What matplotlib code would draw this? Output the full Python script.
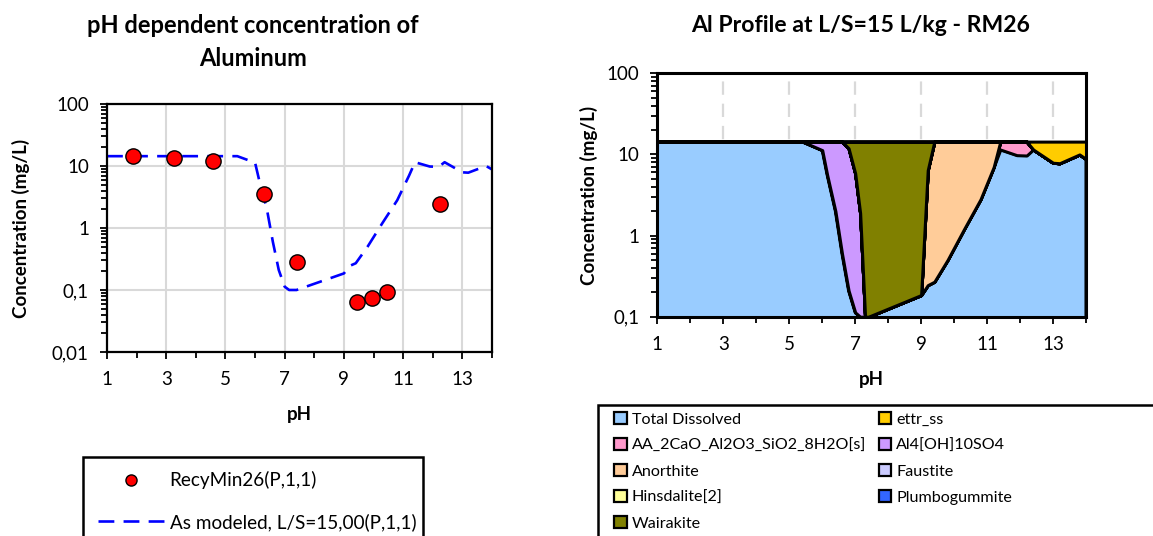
import numpy as np
import matplotlib
matplotlib.use("Agg")
from matplotlib import pyplot as plt
from matplotlib.ticker import FuncFormatter, LogLocator, MultipleLocator, NullFormatter
from matplotlib.patches import Patch, Rectangle
from matplotlib.lines import Line2D

plt.rcParams["font.family"] = ["Lato", "DejaVu Sans"]

# measured points (left chart)
meas_ph = [1.88, 3.25, 4.57, 6.31, 7.41, 9.43, 9.96, 10.47, 12.25]
meas_conc = [14.7, 13.3, 11.9, 3.5, 0.286, 0.065, 0.074, 0.093, 2.47]

# modelled pH grid, shared by both charts
model_ph = [1.0, 5.4, 6.0, 6.15, 6.4, 6.6, 6.8, 7.0, 7.15, 7.3, 7.4,
            9.0, 9.2, 9.4, 9.8, 10.3, 10.8, 11.2, 11.4, 11.9, 12.2, 12.4,
            13.0, 13.2, 13.8, 14.0]
total_dissolved = [14.4, 14.4, 11.3, 5.6, 2.0, 0.6, 0.21, 0.113, 0.10, 0.10, 0.10,
                   0.185, 0.245, 0.27, 0.5, 1.2, 2.8, 7.0, 11.5, 9.8, 9.7, 11.5,
                   7.9, 7.8, 10.0, 8.8]
aa_2cao = [0, 0, 0, 0, 0, 0, 0, 0, 0, 0, 0,
           0, 0, 0, 0, 0, 0, 0, 2.9, 4.6, 4.7, 0,
           0, 0, 0, 0]
al4_oh = [0, 0, 3.1, 8.8, 12.4, 13.8, 11.69, 5.74, 1.8, 0, 0,
          0, 0, 0, 0, 0, 0, 0, 0, 0, 0, 0,
          0, 0, 0, 0]
anorthite = [0, 0, 0, 0, 0, 0, 0, 0, 0, 0, 0,
             0, 6.15, 14.13, 13.9, 13.2, 11.6, 7.4, 0, 0, 0, 0,
             0, 0, 0, 0]
faustite = [0] * len(model_ph)
hinsdalite = [0] * len(model_ph)
plumbogummite = [0] * len(model_ph)
wairakite = [0, 0, 0, 0, 0, 0, 2.5, 8.55, 12.5, 14.3, 14.3,
             14.215, 8.0, 0, 0, 0, 0, 0, 0, 0, 0, 0,
             0, 0, 0, 0]
ettr_ss = [0, 0, 0, 0, 0, 0, 0, 0, 0, 0, 0,
           0, 0, 0, 0, 0, 0, 0, 0, 0, 0, 2.9,
           6.5, 6.6, 4.4, 5.6]

species = ["Total Dissolved", "AA_2CaO_Al2O3_SiO2_8H2O[s]", "Al4[OH]10SO4", "Anorthite",
           "Faustite", "Hinsdalite[2]", "Plumbogummite", "Wairakite", "ettr_ss"]
species_vals = [total_dissolved, aa_2cao, al4_oh, anorthite, faustite, hinsdalite,
                plumbogummite, wairakite, ettr_ss]
species_colors = ["#99CCFF", "#FF99CC", "#CC99FF", "#FFCC99", "#CCCCFF", "#FFFF99",
                  "#3366FF", "#808000", "#FFCC00"]

comma_fmt = FuncFormatter(lambda v, p: f"{v:g}".replace(".", ","))


def style_axis(ax, lw):
    ax.set_yscale("log")
    ax.set_xlim(1, 14)
    ax.xaxis.set_major_locator(MultipleLocator(2, offset=1))
    ax.xaxis.set_minor_locator(MultipleLocator(1))
    ax.yaxis.set_major_locator(LogLocator(base=10))
    ax.yaxis.set_minor_locator(LogLocator(base=10, subs=np.arange(2, 10)))
    ax.yaxis.set_minor_formatter(NullFormatter())
    ax.yaxis.set_major_formatter(comma_fmt)
    ax.tick_params(which="both", direction="out", width=1.3, labelsize=13.5)
    ax.tick_params(which="major", length=5)
    ax.tick_params(which="minor", length=4)
    ax.tick_params(axis="x", pad=9)
    ax.tick_params(axis="y", pad=8)
    for s in ax.spines.values():
        s.set_linewidth(lw)
        s.set_color("black")
    ax.set_axisbelow(True)


fig = plt.figure(figsize=(11.53, 5.36), dpi=100)

# ---- left chart
ax1 = fig.add_axes([0.0928, 0.3433, 0.3339, 0.4627])
style_axis(ax1, 1.6)
ax1.set_ylim(0.01, 100)
ax1.grid(True, which="major", color="#D9D9D9", linewidth=1.5)
ax1.plot(model_ph, total_dissolved, color="#0000FF", linewidth=1.9,
         dashes=(6, 3.5), zorder=2)
ax1.plot(meas_ph, meas_conc, linestyle="none", marker="o", markersize=11,
         markerfacecolor="#FF0000", markeredgecolor="black", markeredgewidth=1, zorder=3)
ax1.set_xlabel("pH", fontsize=13.5, fontweight="bold", labelpad=13)
ax1.set_ylabel("Concentration (mg/L)", fontsize=13.5, fontweight="bold", labelpad=16)
fig.text(253 / 1153, 1 - 42 / 536, "pH dependent concentration of\nAluminum",
         ha="center", va="center", fontsize=17, fontweight="bold", linespacing=1.5)

h_meas = Line2D([], [], linestyle="none", marker="o", markersize=8,
                markerfacecolor="#FF0000", markeredgecolor="black", markeredgewidth=1)
h_mod = Line2D([], [], color="#0000FF", linewidth=1.9, dashes=(6, 3.5))
leg1 = fig.legend([h_meas, h_mod], ["RecyMin26(P,1,1)", "As modeled, L/S=15,00(P,1,1)"],
                  loc="upper left", bbox_to_anchor=(83 / 1153, 1 - 462 / 536, 340 / 1153, 0.01),
                  mode="expand", fontsize=13.6, handlelength=3.5, handletextpad=0.3,
                  borderaxespad=0, fancybox=False, edgecolor="black", framealpha=1,
                  labelspacing=1.25, borderpad=0.78)
leg1.get_frame().set_linewidth(1.8)

# ---- right chart
ax2 = fig.add_axes([0.5701, 0.4091, 0.3718, 0.4541])
style_axis(ax2, 2.2)
ax2.set_ylim(0.1, 100)
ax2.grid(True, axis="x", which="major", color="#D9D9D9", linewidth=1.6, dashes=(6, 4))
ax2.stackplot(model_ph, *species_vals, colors=species_colors, edgecolor="black",
              linewidth=2.2)
ax2.set_xlabel("pH", fontsize=13.5, fontweight="bold", labelpad=13)
ax2.set_ylabel("Concentration (mg/L)", fontsize=13.5, fontweight="bold", labelpad=6)
fig.text(861 / 1153, 1 - 25 / 536, "Al Profile at L/S=15 L/kg - RM26",
         ha="center", va="center", fontsize=16.6, fontweight="bold")

# legend box runs past the right and bottom edges of the figure
fig.add_artist(Rectangle((598 / 1153, -0.1), 0.6, 0.1 + 1 - 405 / 536,
                         transform=fig.transFigure, facecolor="white",
                         edgecolor="black", linewidth=1.8, zorder=4))
handles = [Patch(facecolor=c, edgecolor="black", linewidth=1.6) for c in species_colors]
order = [0, 1, 3, 5, 7, 8, 2, 4, 6]
leg2 = fig.legend([handles[i] for i in order], [species[i] for i in order], ncol=2,
                  loc="upper left", bbox_to_anchor=(611 / 1153, 1 - 409 / 536),
                  fontsize=11.6, handlelength=0.78, handleheight=0.78,
                  handletextpad=0.3, borderaxespad=0, frameon=False,
                  labelspacing=0.7, borderpad=0.2, columnspacing=0.8)
leg2.set_zorder(5)

plt.savefig("out.png", dpi=100)
